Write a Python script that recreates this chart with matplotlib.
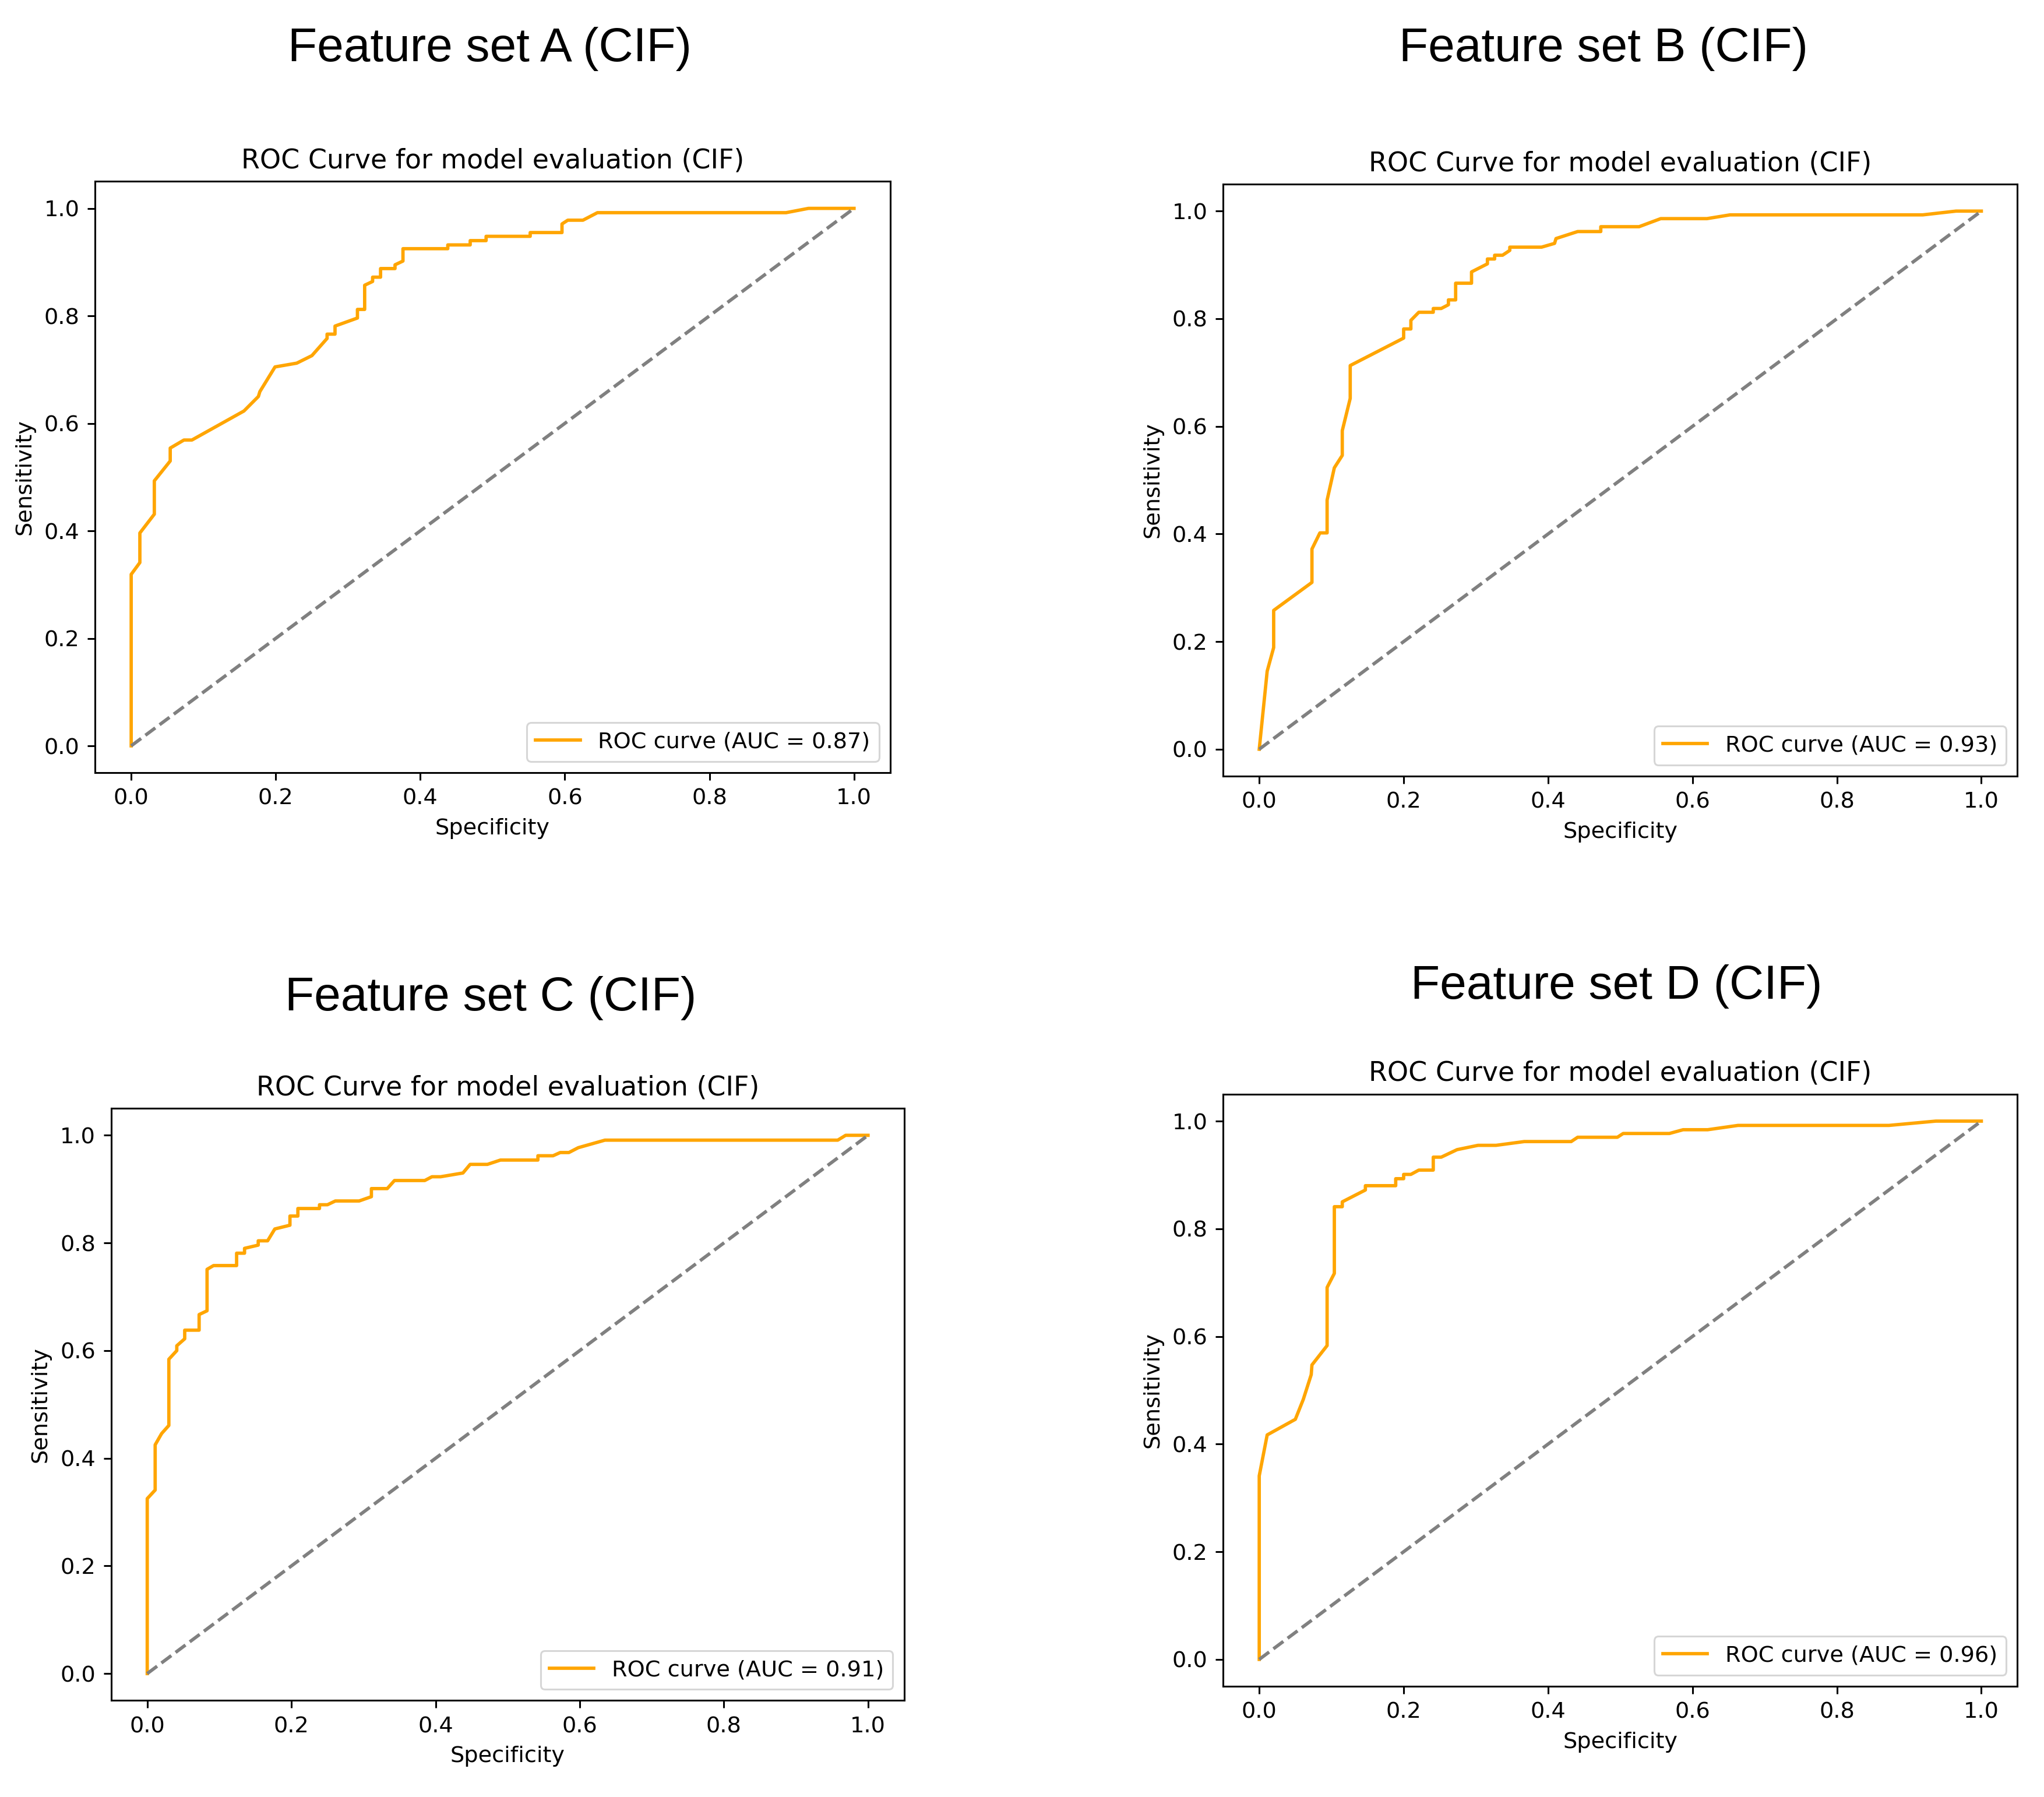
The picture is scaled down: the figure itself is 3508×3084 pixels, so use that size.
import matplotlib
matplotlib.use('Agg')
import matplotlib.pyplot as plt

# ROC points (x = "Specificity", y = "Sensitivity")
spec_a = [0.0, 0.0, 0.012, 0.012, 0.032, 0.032, 0.054, 0.054, 0.073, 0.084, 0.156, 0.176, 0.178,
          0.199, 0.229, 0.250, 0.271, 0.271, 0.282, 0.282, 0.313, 0.313, 0.323, 0.323, 0.334, 0.334,
          0.345, 0.345, 0.365, 0.365, 0.376, 0.376, 0.438, 0.438, 0.469, 0.469, 0.491, 0.491, 0.552,
          0.552, 0.596, 0.596, 0.604, 0.625, 0.645, 0.906, 0.937, 1.0]
sens_a = [0.0, 0.319, 0.341, 0.396, 0.431, 0.493, 0.530, 0.554, 0.569, 0.569, 0.623, 0.650, 0.659,
          0.705, 0.712, 0.726, 0.758, 0.766, 0.766, 0.781, 0.796, 0.812, 0.812, 0.857, 0.864, 0.872,
          0.872, 0.888, 0.888, 0.895, 0.902, 0.925, 0.925, 0.932, 0.932, 0.940, 0.940, 0.948, 0.948,
          0.955, 0.955, 0.971, 0.978, 0.978, 0.992, 0.992, 1.0, 1.0]

spec_b = [0.0, 0.011, 0.020, 0.020, 0.073, 0.073, 0.084, 0.094, 0.094, 0.104, 0.115, 0.115, 0.126,
          0.126, 0.200, 0.200, 0.210, 0.210, 0.221, 0.241, 0.241, 0.252, 0.262, 0.262, 0.272, 0.272,
          0.294, 0.294, 0.316, 0.316, 0.326, 0.326, 0.337, 0.347, 0.347, 0.391, 0.409, 0.411, 0.441,
          0.473, 0.473, 0.526, 0.556, 0.620, 0.652, 0.919, 0.965, 1.0]
sens_b = [0.0, 0.145, 0.189, 0.258, 0.310, 0.372, 0.402, 0.402, 0.463, 0.523, 0.546, 0.592, 0.652,
          0.713, 0.764, 0.781, 0.781, 0.797, 0.812, 0.812, 0.819, 0.819, 0.826, 0.835, 0.835, 0.866,
          0.866, 0.887, 0.902, 0.911, 0.911, 0.918, 0.918, 0.927, 0.933, 0.933, 0.940, 0.949, 0.962,
          0.962, 0.971, 0.971, 0.986, 0.986, 0.993, 0.993, 1.0, 1.0]

spec_c = [0.0, 0.0, 0.011, 0.011, 0.020, 0.030, 0.030, 0.041, 0.041, 0.052, 0.052, 0.072, 0.072,
          0.083, 0.083, 0.092, 0.124, 0.124, 0.135, 0.135, 0.154, 0.154, 0.167, 0.177, 0.198, 0.198,
          0.209, 0.209, 0.239, 0.239, 0.250, 0.261, 0.294, 0.311, 0.311, 0.333, 0.343, 0.385, 0.395,
          0.407, 0.438, 0.448, 0.472, 0.490, 0.542, 0.542, 0.563, 0.573, 0.585, 0.598, 0.635, 0.958,
          0.969, 1.0]
sens_c = [0.0, 0.325, 0.341, 0.425, 0.446, 0.461, 0.584, 0.600, 0.609, 0.622, 0.638, 0.638, 0.667,
          0.674, 0.751, 0.758, 0.758, 0.781, 0.781, 0.790, 0.796, 0.804, 0.804, 0.826, 0.833, 0.850,
          0.850, 0.864, 0.864, 0.871, 0.871, 0.878, 0.878, 0.886, 0.901, 0.901, 0.916, 0.916, 0.923,
          0.923, 0.930, 0.946, 0.946, 0.954, 0.954, 0.962, 0.962, 0.968, 0.968, 0.977, 0.991, 0.991,
          1.0, 1.0]

spec_d = [0.0, 0.0, 0.011, 0.050, 0.061, 0.072, 0.073, 0.094, 0.094, 0.104, 0.104, 0.115, 0.115,
          0.147, 0.147, 0.189, 0.189, 0.200, 0.200, 0.210, 0.221, 0.241, 0.241, 0.252, 0.274, 0.303,
          0.328, 0.367, 0.432, 0.441, 0.496, 0.504, 0.568, 0.587, 0.621, 0.663, 0.872, 0.937, 1.0]
sens_d = [0.0, 0.341, 0.417, 0.446, 0.483, 0.529, 0.547, 0.583, 0.691, 0.717, 0.841, 0.841, 0.850,
          0.872, 0.880, 0.880, 0.893, 0.893, 0.901, 0.901, 0.909, 0.909, 0.933, 0.933, 0.947, 0.955,
          0.955, 0.962, 0.962, 0.970, 0.970, 0.977, 0.977, 0.984, 0.984, 0.992, 0.992, 1.0, 1.0]

auc = [0.87, 0.93, 0.91, 0.96]
panel_titles = ['Feature set A (CIF)', 'Feature set B (CIF)', 'Feature set C (CIF)', 'Feature set D (CIF)']
ticks = [0.0, 0.2, 0.4, 0.6, 0.8, 1.0]

# each panel is a default matplotlib figure blown up ~2.75x
k = 2.75
plt.rcParams.update({
    'font.family': 'DejaVu Sans',
    'font.size': 10 * k,
    'axes.linewidth': 0.8 * k,
    'axes.titlesize': 12 * k,
    'axes.titlepad': 6 * k,
    'axes.labelpad': 4 * k,
    'xtick.major.size': 3.5 * k,
    'ytick.major.size': 3.5 * k,
    'xtick.major.width': 0.8 * k,
    'ytick.major.width': 0.8 * k,
    'xtick.major.pad': 3.5 * k,
    'ytick.major.pad': 3.5 * k,
    'lines.linewidth': 1.5 * k,
    'legend.framealpha': 0.8,
})

fig = plt.figure(figsize=(35.08, 30.84), dpi=100)

boxes = [
    [0.0465, 0.5700, 0.3890, 0.3290],
    [0.5984, 0.5681, 0.3886, 0.3294],
    [0.0544, 0.0537, 0.3879, 0.3295],
    [0.5984, 0.0616, 0.3886, 0.3295],
]
title_pos = [(0.2395, 0.9660), (0.7845, 0.9660), (0.2400, 0.4377), (0.7907, 0.4442)]

specs = [spec_a, spec_b, spec_c, spec_d]
senss = [sens_a, sens_b, sens_c, sens_d]

for i in range(4):
    ax = fig.add_axes(boxes[i])
    ax.plot(specs[i], senss[i], color='orange', label=f'ROC curve (AUC = {auc[i]:.2f})')
    ax.plot([0, 1], [0, 1], color='gray', linestyle='--')
    ax.set_xticks(ticks)
    ax.set_yticks(ticks)
    ax.set_xlim(-0.05, 1.05)
    ax.set_ylim(-0.05, 1.05)
    ax.set_xlabel('Specificity')
    ax.set_ylabel('Sensitivity')
    ax.set_title('ROC Curve for model evaluation (CIF)')
    leg = ax.legend(loc='lower right')
    leg.get_frame().set_linewidth(0.8 * k)
    fig.text(title_pos[i][0], title_pos[i][1], panel_titles[i], ha='center', va='baseline',
             fontsize=59, family=['Liberation Sans', 'DejaVu Sans'])

plt.savefig('out.png', dpi=100)
